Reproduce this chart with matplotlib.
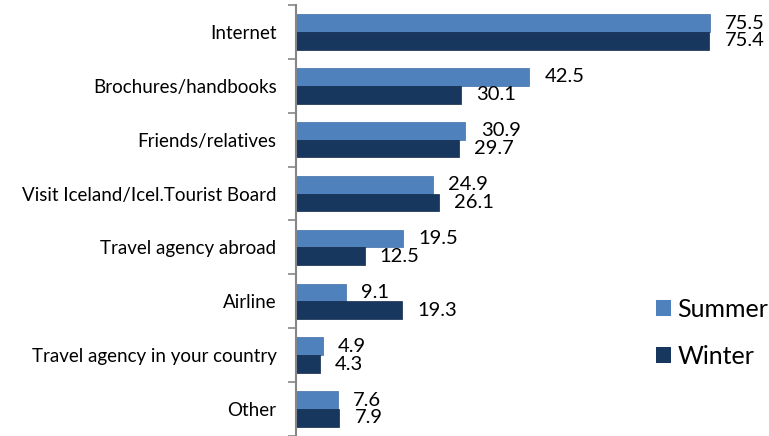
import matplotlib
matplotlib.use("Agg")
import matplotlib.pyplot as plt
import numpy as np
from matplotlib.patches import Patch

categories = ["Internet", "Brochures/handbooks", "Friends/relatives",
              "Visit Iceland/Icel.Tourist Board", "Travel agency abroad",
              "Airline", "Travel agency in your country", "Other"]
summer = [75.5, 42.5, 30.9, 24.9, 19.5, 9.1, 4.9, 7.6]
winter = [75.4, 30.1, 29.7, 26.1, 12.5, 19.3, 4.3, 7.9]

c_summer = "#4F81BD"
c_winter = "#17375E"

plt.rcParams["font.family"] = ["Lato", "DejaVu Sans"]

W, H = 769, 436
fig = plt.figure(figsize=(W / 100, H / 100), dpi=100)
ax = fig.add_axes([296 / W, 0 / H, 466 / W, 431 / H])

y = np.arange(len(categories))
bh = 0.33
ax.barh(y - bh / 2, summer, height=bh, color=c_summer, edgecolor="#3F6FA8", linewidth=0.5)
ax.barh(y + bh / 2, winter, height=bh, color=c_winter, edgecolor="#10294A", linewidth=0.5)

for yi, s, w in zip(y, summer, winter):
    ax.annotate(f"{s:.1f}", (s, yi - bh / 2), xytext=(11, 0), textcoords="offset points",
                va="center", ha="left", fontsize=14.5)
    ax.annotate(f"{w:.1f}", (w, yi + bh / 2), xytext=(11, 0), textcoords="offset points",
                va="center", ha="left", fontsize=14.5)

ax.set_xlim(0, 85)
ax.set_ylim(len(categories) - 0.5, -0.5)
ax.set_yticks(y)
ax.set_yticklabels(categories, fontsize=13.5)
ax.set_yticks(np.arange(len(categories) + 1) - 0.5, minor=True)
ax.tick_params(axis="y", which="major", length=0, pad=14)
ax.tick_params(axis="y", which="minor", length=6, width=1.2, color="#868686")
ax.set_xticks([])
for side in ["top", "right", "bottom"]:
    ax.spines[side].set_visible(False)
ax.spines["left"].set_color("#868686")
ax.spines["left"].set_linewidth(1.5)

handles = [Patch(facecolor=c_summer, label="Summer"), Patch(facecolor=c_winter, label="Winter")]
fig.legend(handles=handles, loc="center left", bbox_to_anchor=(656 / W, 1 - 333 / H),
           frameon=False, fontsize=18, handlelength=0.6, handleheight=0.6,
           handletextpad=0.25, labelspacing=0.97, borderpad=0, borderaxespad=0)

fig.savefig("out.png", dpi=100)
